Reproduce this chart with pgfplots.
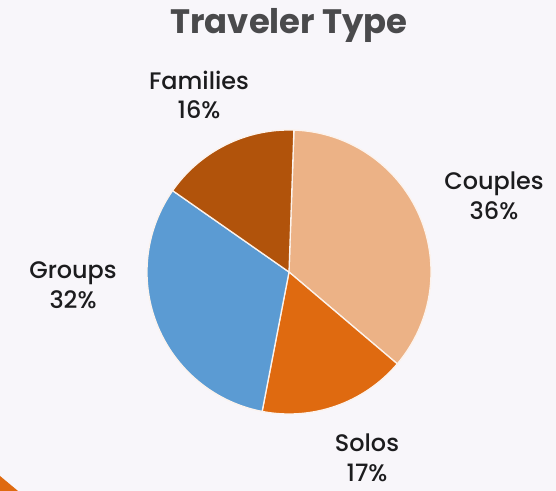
\documentclass[border=0pt]{standalone}
\usepackage{pgfplots}
\pgfplotsset{compat=1.18}
\usepackage{fontspec}
\setmainfont{Poppins}
\newfontfamily\medfont{Poppins}[UprightFont=* Medium, BoldFont=* SemiBold]

\definecolor{bg}{HTML}{F8F6FA}
\definecolor{couples}{HTML}{ECB286}
\definecolor{solos}{HTML}{DF6A10}
\definecolor{groups}{HTML}{5B9BD3}
\definecolor{families}{HTML}{B1530B}
\definecolor{titlegray}{HTML}{4A4A4C}
\definecolor{labelblack}{HTML}{1C1C1E}

% shares (percent, as labelled)
\def\vCouples{36}
\def\vSolos{17}
\def\vGroups{32}
\def\vFamilies{16}
\pgfmathsetmacro\tot{\vCouples+\vSolos+\vGroups+\vFamilies}
\pgfmathsetmacro\aA{88}
\pgfmathsetmacro\aB{\aA-\vCouples/\tot*360}
\pgfmathsetmacro\aC{\aB-\vSolos/\tot*360}
\pgfmathsetmacro\aD{\aC-\vGroups/\tot*360}
\pgfmathsetmacro\aE{\aD-\vFamilies/\tot*360}

\begin{document}
\begin{tikzpicture}
\begin{axis}[
  width=556bp, height=491bp, scale only axis,
  xmin=0, xmax=556, ymin=0, ymax=491,
  hide axis, clip=false,
]
\fill[bg] (axis cs:0,0) rectangle (axis cs:556,491);
\fill[solos] (axis cs:0,15) -- (axis cs:18,0) -- (axis cs:0,0) -- cycle;

\tikzset{slice/.style={draw=white!85!couples, line width=1.3pt, line join=round}}
\fill[couples,slice] (axis cs:289,219) -- ++(\aA:142bp) arc[start angle=\aA, end angle=\aB, radius=142bp] -- cycle;
\fill[solos,slice] (axis cs:289,219) -- ++(\aB:142bp) arc[start angle=\aB, end angle=\aC, radius=142bp] -- cycle;
\fill[groups,slice] (axis cs:289,219) -- ++(\aC:142bp) arc[start angle=\aC, end angle=\aD, radius=142bp] -- cycle;
\fill[families,slice] (axis cs:289,219) -- ++(\aD:142bp) arc[start angle=\aD, end angle=\aE, radius=142bp] -- cycle;

\node[titlegray, font=\fontsize{34}{40}\selectfont\bfseries] at (axis cs:289,466) {Traveler Type};
\tikzset{lbl/.style={labelblack, align=center, font=\medfont\fontsize{24}{30}\selectfont}}
\node[lbl] at (axis cs:199,396) {Families\\16\%};
\node[lbl] at (axis cs:494,295) {Couples\\36\%};
\node[lbl] at (axis cs:73,206) {Groups\\32\%};
\node[lbl] at (axis cs:367,33) {Solos\\17\%};
\end{axis}
\end{tikzpicture}
\end{document}
